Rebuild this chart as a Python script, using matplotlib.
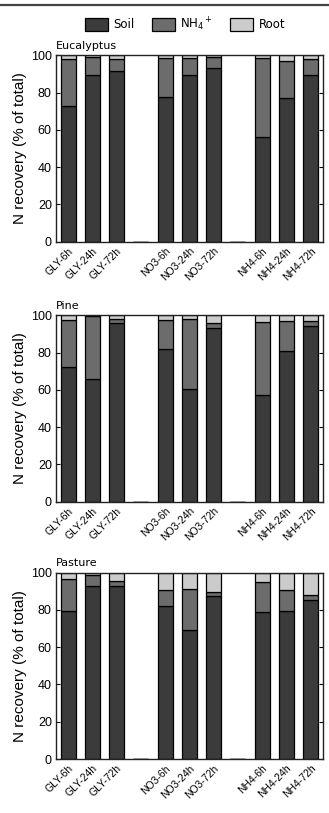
import matplotlib
matplotlib.use("Agg")
import matplotlib.pyplot as plt
from matplotlib.lines import Line2D
import numpy as np

categories = ["GLY-6h", "GLY-24h", "GLY-72h", "", "NO3-6h", "NO3-24h", "NO3-72h", "",
              "NH4-6h", "NH4-24h", "NH4-72h"]
series_names = ["Soil", "NH$_4$$^+$", "Root"]
panels = ["Eucalyptus", "Pine", "Pasture"]

euc_soil = [73.0, 89.5, 91.8, 0, 77.5, 89.4, 93.1, 0, 56.0, 77.0, 89.6]
euc_nh4  = [24.8, 9.5, 6.2, 0, 21.2, 9.1, 5.9, 0, 42.7, 20.2, 8.7]
euc_root = [2.2, 1.0, 2.0, 0, 1.3, 1.5, 1.0, 0, 1.3, 2.8, 1.7]

pine_soil = [72.2, 65.6, 95.8, 0, 81.8, 60.3, 93.4, 0, 57.2, 81.1, 94.1]
pine_nh4  = [25.1, 33.9, 2.4, 0, 15.5, 37.7, 2.7, 0, 39.2, 15.9, 2.9]
pine_root = [2.7, 0.5, 1.8, 0, 2.7, 2.0, 3.9, 0, 3.6, 3.0, 3.0]

past_soil = [79.4, 92.8, 92.8, 0, 82.2, 69.5, 87.7, 0, 78.7, 79.4, 85.5]
past_nh4  = [17.4, 5.9, 2.5, 0, 8.7, 21.9, 1.9, 0, 16.1, 11.1, 2.7]
past_root = [3.2, 1.3, 4.7, 0, 9.1, 8.6, 10.4, 0, 5.2, 9.5, 11.8]

data = [(euc_soil, euc_nh4, euc_root), (pine_soil, pine_nh4, pine_root),
        (past_soil, past_nh4, past_root)]
colors = ["#3b3b3b", "#6c6c6c", "#cbcbcb"]
yticks = [0, 20, 40, 60, 80, 100]

W, H = 329, 813
plt.rcParams["mathtext.fontset"] = "dejavusans"
fig = plt.figure(figsize=(W / 100, H / 100), dpi=100)

# top rule
fig.add_artist(Line2D([0, 1], [1 - 5 / H] * 2, color="#444444", lw=1.6,
                      transform=fig.transFigure))

bottoms_px = [241.7, 501.7, 759.0]
left, width = 56 / W, 266.7 / W
height = 186.3 / H
tick_font = "Liberation Sans"
other_font = "DejaVu Sans"

x = np.arange(len(categories))
handles = None
for i, (name, (soil, nh4, root)) in enumerate(zip(panels, data)):
    ax = fig.add_axes([left, 1 - bottoms_px[i] / H, width, height])
    soil = np.array(soil); nh4 = np.array(nh4); root = np.array(root)
    b1 = ax.bar(x, soil, width=0.62, color=colors[0], edgecolor="black", lw=0.9)
    b2 = ax.bar(x, nh4, bottom=soil, width=0.62, color=colors[1], edgecolor="black", lw=0.9)
    b3 = ax.bar(x, root, bottom=soil + nh4, width=0.62, color=colors[2], edgecolor="black", lw=0.9)
    if handles is None:
        handles = [b1, b2, b3]
    ax.set_xlim(-0.5, len(categories) - 0.5)
    ax.set_ylim(0, 100)
    ax.set_yticks(yticks)
    ax.set_yticklabels([str(v) for v in yticks], fontsize=9, family=tick_font)
    ticks_x = [k for k, c in enumerate(categories) if c]
    ax.set_xticks(ticks_x)
    ax.set_xticklabels([categories[k] for k in ticks_x], rotation=45, ha="right",
                       rotation_mode="anchor", fontsize=7.5, family=tick_font)
    ax.tick_params(axis="y", direction="in", left=True, right=True, length=3, pad=3)
    ax.tick_params(axis="x", length=0, pad=3)
    for s in ax.spines.values():
        s.set_linewidth(1.0)
        s.set_color("#222222")
    ax.set_ylabel("N recovery (% of total)", fontsize=11, family=tick_font, labelpad=3)
    ax.text(0.0, 1.025, name, transform=ax.transAxes, ha="left", va="bottom",
            fontsize=8, family=other_font)

fig.legend(handles, series_names, loc="center", bbox_to_anchor=(185 / W, 1 - 24 / H),
           ncol=3, frameon=False, prop={"family": other_font, "size": 8.5},
           handlelength=2.0, handleheight=1.3, handletextpad=0.45, columnspacing=1.4)

fig.savefig("out.png", dpi=100)
